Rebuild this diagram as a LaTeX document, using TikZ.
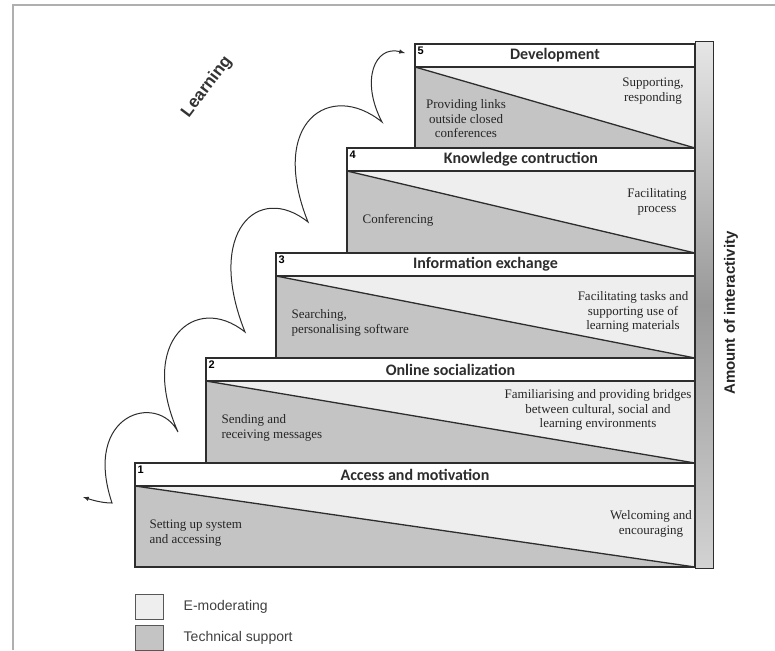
\documentclass[tikz,border=0pt]{standalone}
\usepackage{fontspec}
\setmainfont{Liberation Serif}
\setsansfont{Liberation Sans}
\newfontfamily\hdrfont{Carlito}
\usepackage{tikz}
\usetikzlibrary{arrows,positioning}
\definecolor{emodcolor}{RGB}{238,238,238}
\definecolor{techcolor}{RGB}{196,196,196}
\definecolor{framegray}{RGB}{175,175,175}
\definecolor{linegray}{RGB}{45,45,45}

\tikzset{
  stageline/.style={draw=linegray, line width=1.3pt},
  hdrtext/.style={font=\hdrfont\bfseries\fontsize{16}{18}\selectfont, text=linegray},
  numtext/.style={font=\sffamily\bfseries\fontsize{11}{12}\selectfont, inner sep=2.5pt, anchor=north west},
  notetext/.style={font=\fontsize{13}{14.5}\selectfont, align=center, text=black!85},
  legbox/.style={draw=linegray!80, line width=1pt, minimum width=28pt, minimum height=25pt, inner sep=0pt},
  legtext/.style={font=\sffamily\fontsize{14}{16}\selectfont, text=black!75, inner sep=0pt},
}

\begin{document}
\begin{tikzpicture}[x=1pt, y=-1pt]
    \useasboundingbox (0,0) rectangle (775,650);
    % Frame
    \draw[framegray, line width=2pt] (13,650) -- (13,5) -- (775,5);

    % Interactivity bar
    \shade[top color=gray!20, bottom color=gray!35, middle color=gray!80] (695,42) rectangle (713,568);
    \draw[linegray, line width=1pt] (695,42) rectangle (713,568);

    % Stages
    \foreach \n/\xl/\yt/\yb/\title in {1/135/463/567/Access and motivation,
        2/206/358/463/Online socialization, 3/276/253/358/Information exchange,
        4/347/148/253/Knowledge contruction, 5/415/44/148/Development} {
      \fill[emodcolor] (\xl,\yt+23) rectangle (695,\yb);
      \fill[techcolor] (\xl,\yt+23) -- (695,\yb) -- (\xl,\yb) -- cycle;
      \draw[stageline] (\xl,\yt+23) -- (695,\yb);
      \draw[stageline, fill=white] (\xl,\yt) rectangle (695,\yt+23);
      \draw[stageline] (\xl,\yt+23) -- (\xl,\yb) -- (695,\yb) -- (695,\yt+23);
      \node[numtext] (num\n) at (\xl,\yt) {\n};
      \node[hdrtext] (stage\n) at ({(\xl+695)/2},\yt+11.5) {\title};
    }

    % Technical support / e-moderating texts
    \node[notetext] (tech5) at (466,119) {Providing links\\outside closed\\conferences};
    \node[notetext] (emod5) at (653,91) {Supporting,\\responding};
    \node[notetext] (tech4) at (398,220) {Conferencing};
    \node[notetext] (emod4) at (657,202) {Facilitating\\process};
    \node[notetext, align=left, anchor=west] (tech3) at (288,323) {Searching,\\personalising software};
    \node[notetext] (emod3) at (633,312) {Facilitating tasks and\\supporting use of\\learning materials};
    \node[notetext, align=left, anchor=west] (tech2) at (218,428) {Sending and\\receiving messages};
    \node[notetext] (emod2) at (598,410) {Familiarising and providing bridges\\between cultural, social and\\learning environments};
    \node[notetext, align=left, anchor=west] (tech1) at (146,533) {Setting up system\\and accessing};
    \node[notetext] (emod1) at (651,524) {Welcoming and\\encouraging};

    % Learning path
    \coordinate (lstart) at (83,497);
    \coordinate (w0) at (112,503);
    \coordinate (w1) at (178,432);
    \coordinate (w2) at (245,332);
    \coordinate (w3) at (308,222);
    \coordinate (w4) at (382,122);
    \coordinate (lend) at (405,53);
    \draw[linegray, line width=1pt, latex-latex] (lstart) .. controls (95,501) and (104,503) .. (w0)
      .. controls (82,413) and (158,392) .. (w1)
      .. controls (138,342) and (195,292) .. (w2)
      .. controls (205,232) and (258,182) .. (w3)
      .. controls (268,122) and (330,80) .. (w4)
      .. controls (360,80) and (375,45) .. (lend);
    \node[font=\sffamily\bfseries\fontsize{17}{20}\selectfont, rotate=53, text=black!80] (learning) at (207,87) {Learning};

    \node[font=\sffamily\bfseries\fontsize{15}{18}\selectfont, rotate=90, text=black!85] (interact) at (731,313) {Amount of interactivity};

    % Legend
    \node[legbox, fill=emodcolor] (legemod) at (149,606.5) {};
    \node[legbox, fill=techcolor] (legtech) at (149,638) {};
    \node[legtext, right=20pt of legemod] (legemodtext) {E-moderating};
    \node[legtext, right=20pt of legtech] (legtechtext) {Technical support};
  \end{tikzpicture}
\end{document}
